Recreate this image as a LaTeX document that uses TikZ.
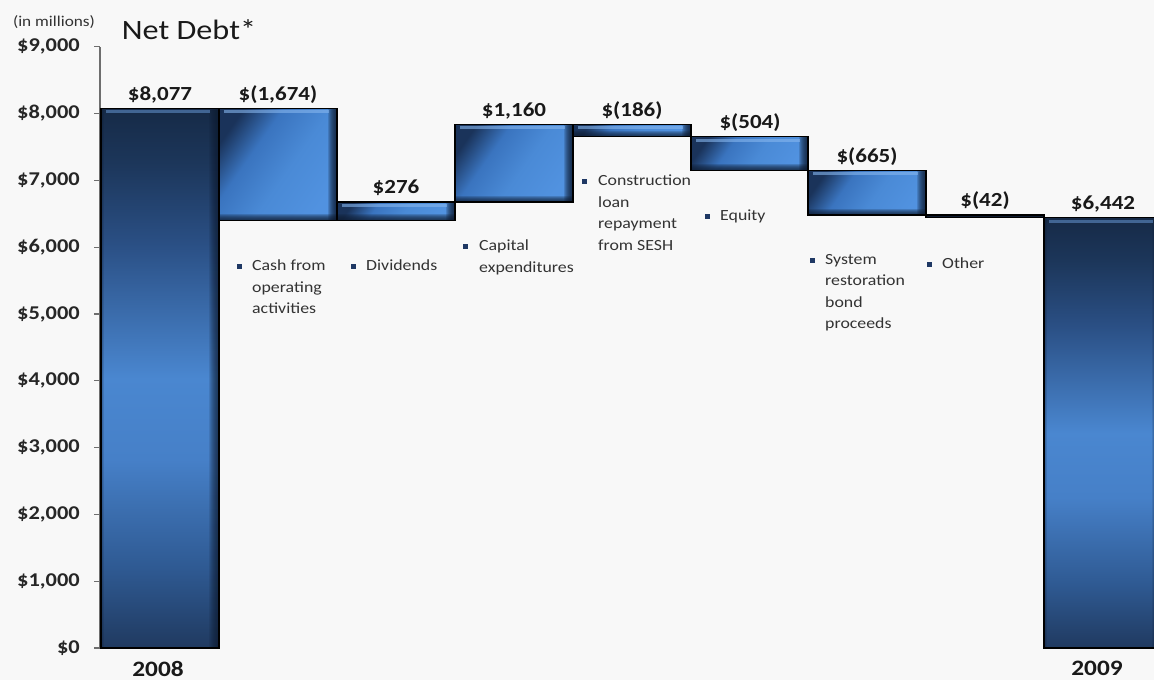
\documentclass[tikz,border=0pt]{standalone}
\usepackage{fontspec}
\setmainfont{Carlito}[FakeStretch=1.15]
\usetikzlibrary{positioning}
\definecolor{Paper}{HTML}{F8F8F8}
\definecolor{AxisGray}{HTML}{6E6E6E}
\definecolor{BulletBlue}{HTML}{1F3864}
\definecolor{LabelGray}{HTML}{333333}
\definecolor{EdgeNavy}{HTML}{0E1B30}
\definecolor{TotalGlow}{HTML}{5F8CC6}
\definecolor{StepGlow}{HTML}{86B6EE}
\pgfdeclareverticalshading{totalshade}{100bp}{rgb(0bp)=(0.125,0.227,0.376); rgb(25bp)=(0.125,0.227,0.376); rgb(32.5bp)=(0.184,0.353,0.576); rgb(42.5bp)=(0.275,0.502,0.784); rgb(50bp)=(0.290,0.529,0.816); rgb(62.5bp)=(0.165,0.310,0.518); rgb(70bp)=(0.110,0.212,0.353); rgb(75bp)=(0.086,0.165,0.278); rgb(100bp)=(0.086,0.165,0.278)}
\pgfdeclarehorizontalshading{stepshade}{100bp}{rgb(0bp)=(0.102,0.2,0.353); rgb(24bp)=(0.102,0.2,0.353); rgb(38bp)=(0.227,0.455,0.749); rgb(55bp)=(0.290,0.541,0.839); rgb(75bp)=(0.318,0.573,0.878); rgb(100bp)=(0.318,0.573,0.878)}

\begin{document}
\begin{tikzpicture}[
  x=1pt,y=1pt,
  axis/.style={draw=AxisGray,line width=1.2pt},
  total/.style={draw=black,line width=1.4pt,shading=totalshade,
    path picture={
      \foreach \k in {1,...,10}
        \fill[EdgeNavy,opacity=.12] ([xshift=-\k pt]path picture bounding box.north east) rectangle (path picture bounding box.south east);
      \foreach \k in {1,...,3}
        \fill[EdgeNavy,opacity=.15] (path picture bounding box.north west) rectangle ([xshift=\k pt]path picture bounding box.south west);
      \fill[TotalGlow,opacity=.6] ([xshift=5pt,yshift=-2pt]path picture bounding box.north west) rectangle ([xshift=-9pt,yshift=-5pt]path picture bounding box.north east);
    }},
  stepbar/.style={draw=black,line width=1.4pt,shading=stepshade,shading angle=-35,
    path picture={
      \foreach \k in {1,...,6}
        \fill[EdgeNavy,opacity=.2] ([yshift=\k pt]path picture bounding box.south west) rectangle (path picture bounding box.south east);
      \foreach \k in {1,...,9}
        \fill[EdgeNavy,opacity=.17] ([xshift=-\k pt]path picture bounding box.north east) rectangle (path picture bounding box.south east);
      \fill[StepGlow,opacity=.6] ([xshift=5pt,yshift=-2pt]path picture bounding box.north west) rectangle ([xshift=-8pt,yshift=-5pt]path picture bounding box.north east);
    }},
  value/.style={font=\fontsize{20}{23}\selectfont\bfseries,text=black!90,anchor=base,yshift=8pt,inner sep=0pt},
  tick label/.style={font=\fontsize{19.5}{22}\selectfont\bfseries,text=black!85,anchor=east,inner sep=0pt},
  item/.style={font=\fontsize{15.5}{21.5}\selectfont,text=LabelGray,align=left,anchor=north west,inner sep=0pt},
  bullet/.style={fill=BulletBlue,minimum size=5pt,inner sep=0pt},
  year/.style={font=\fontsize{22}{24}\selectfont\bfseries,text=black!90,inner sep=0pt}
]
\clip (0,0) rectangle (1154,680);
\fill[Paper] (0,0) rectangle (1154,680);
\node[font=\fontsize{15}{17}\selectfont,text=LabelGray] (unit) at (54,658) {(in millions)};
\node[font=\fontsize{28}{31}\selectfont,text=black!90] (title) at (189,650) {Net Debt*};
\begin{scope}[y=0.0668pt,yshift=32pt]
\draw[axis] (100,0) -- (100,9000);
\foreach \v/\t in {0/\$0,1000/{\$1,000},2000/{\$2,000},3000/{\$3,000},4000/{\$4,000},5000/{\$5,000},6000/{\$6,000},7000/{\$7,000},8000/{\$8,000},9000/{\$9,000}}{
  \draw[axis] (94,\v) -- (100,\v);
  \node[tick label] (tick\v) at (80,\v) {\t};
}
\shade[total] (101,0) rectangle (219,8077);
\shade[stepbar] (219,6403) rectangle (337,8077);
\shade[stepbar] (337,6403) rectangle (455,6679);
\shade[stepbar] (455,6679) rectangle (573,7839);
\shade[stepbar] (573,7653) rectangle (691,7839);
\shade[stepbar] (691,7149) rectangle (808,7653);
\shade[stepbar] (808,6484) rectangle (926,7149);
\fill[draw=black,line width=1.4pt,fill=EdgeNavy] (926,6442) rectangle (1044,6484);
\shade[total] (1044,0) rectangle (1162,6442);
\node[value] (v2008) at (160,8077) {\$8,077};
\node[value] (vcash) at (278,8077) {\$(1,674)};
\node[value] (vdiv) at (396,6679) {\$276};
\node[value] (vcapex) at (514,7839) {\$1,160};
\node[value] (vloan) at (632,7839) {\$(186)};
\node[value] (vequity) at (750,7653) {\$(504)};
\node[value] (vbond) at (867,7149) {\$(665)};
\node[value] (vother) at (985,6484) {\$(42)};
\node[value] (v2009) at (1103,6442) {\$6,442};
\end{scope}
\node[item] (cash) at (252,420) {Cash from\\operating\\activities};
\node[item] (div) at (366,420) {Dividends};
\node[item] (capex) at (479,440) {Capital\\expenditures};
\node[item] (loan) at (598,505) {Construction\\loan\\repayment\\from SESH};
\node[item] (equity) at (720,470) {Equity};
\node[item] (bond) at (825,426) {System\\restoration\\bond\\proceeds};
\node[item] (other) at (942,422) {Other};
\node[bullet] at ([xshift=-13pt,yshift=-7pt]cash.north west) {};
\node[bullet] at ([xshift=-13pt,yshift=-7pt]div.north west) {};
\node[bullet] at ([xshift=-14pt,yshift=-7pt]capex.north west) {};
\node[bullet] at ([xshift=-14pt,yshift=-7pt]loan.north west) {};
\node[bullet] at ([xshift=-13pt,yshift=-7pt]equity.north west) {};
\node[bullet] at ([xshift=-13pt,yshift=-7pt]bond.north west) {};
\node[bullet] at ([xshift=-13pt,yshift=-7pt]other.north west) {};
\node[year] (y2008) at (158,11) {2008};
\node[year] (y2009) at (1097,12) {2009};
\end{tikzpicture}
\end{document}
